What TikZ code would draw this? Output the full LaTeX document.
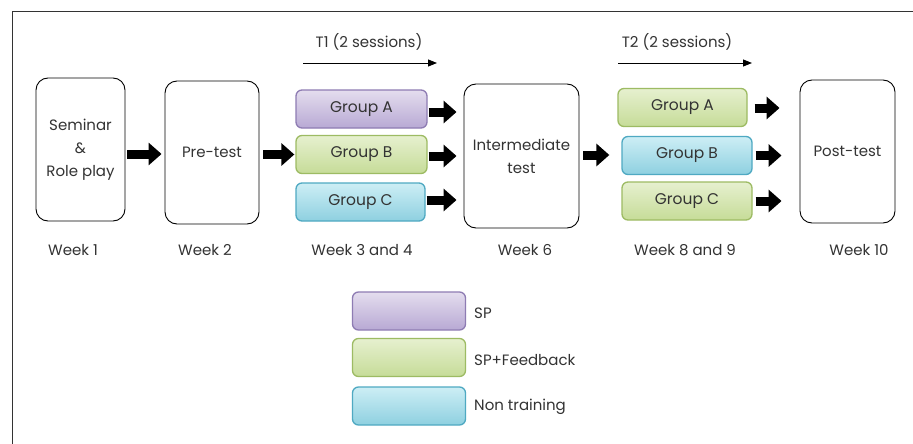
\documentclass[tikz,border=0pt]{standalone}
\usepackage{fontspec}
\setmainfont{Poppins}
\usetikzlibrary{arrows.meta,positioning}
\definecolor{purF1}{HTML}{E4DDEE}
\definecolor{purF2}{HTML}{B8A9D4}
\definecolor{purD}{HTML}{8E7CB3}
\definecolor{grnF1}{HTML}{E6F0CF}
\definecolor{grnF2}{HTML}{C6DC98}
\definecolor{grnD}{HTML}{9DBB63}
\definecolor{bluF1}{HTML}{CDEEF5}
\definecolor{bluF2}{HTML}{8ED0E0}
\definecolor{bluD}{HTML}{4FA9C2}
\tikzset{
  bigbox/.style={draw=black, line width=0.9pt, rounded corners=12pt, fill=white, align=center,
    font=\fontsize{15}{23}\selectfont, text=black!80, inner sep=0pt},
  grp/.style={rounded corners=6pt, line width=1.3pt, minimum height=38pt, inner sep=0pt,
    font=\fontsize{15.5}{18}\selectfont, text=black!80},
  purbox/.style={grp, draw=purD, top color=purF1, bottom color=purF2},
  grnbox/.style={grp, draw=grnD, top color=grnF1, bottom color=grnF2},
  blubox/.style={grp, draw=bluD, top color=bluF1, bottom color=bluF2},
  blockarrow/.style={line width=9pt, -{Triangle[length=13pt,width=22pt]}},
  thinarrow/.style={line width=0.9pt, -{Triangle[length=9pt,width=7pt]}},
  lbl/.style={font=\fontsize{15}{18}\selectfont, text=black!80, inner sep=0pt},
}
\begin{document}
\begin{tikzpicture}[x=1pt,y=-1pt]
\useasboundingbox (0,0) rectangle (913,444);
\fill[white] (0,0) rectangle (913,444);
% frame
\coordinate (fTL) at (12,11);
\coordinate (fTR) at (913,11);
\coordinate (fBL) at (12,444);
\draw[line width=0.9pt, black!80] (fTR) -- (fTL) -- (fBL);

% main boxes
\node[bigbox, minimum width=89pt, minimum height=143pt] (sem) at (80.5,149.5) {Seminar\\\&\\Role play};
\node[bigbox, minimum width=94pt, minimum height=143pt] (pre) at (212,152.5) {Pre-test};
\node[bigbox, minimum width=115pt, minimum height=144pt] (mid) at (521.5,156) {Intermediate\\test};
\node[bigbox, minimum width=95pt, minimum height=143pt] (post) at (847.5,151.5) {Post-test};

% T1 groups
\node[purbox, minimum width=131pt] (a1) at (361.5,109) {Group A};
\node[grnbox, minimum width=131pt] (b1) at (361.5,154.5) {Group B};
\node[blubox, minimum width=129pt] (c1) at (360.5,202) {Group C};
% T2 groups
\node[grnbox, minimum width=129pt] (a2) at (682.5,107.5) {Group A};
\node[blubox, minimum width=130pt] (b2) at (687,155.5) {Group B};
\node[grnbox, minimum width=130pt] (c2) at (687,201) {Group C};

% block arrows
\draw[blockarrow, shorten <=2pt, shorten >=3pt] (sem.east |- 0,154) coordinate (s1) -- (pre.west |- s1);
\draw[blockarrow, shorten <=4pt, shorten >=1pt] (pre.east |- b1.west) -- (b1.west);
\draw[blockarrow, shorten <=1pt, shorten >=7pt] (a1.east |- 0,112) coordinate (a1e) -- (mid.west |- a1e);
\draw[blockarrow, shorten <=1pt, shorten >=7pt] (b1.east |- 0,156) coordinate (b1e) -- (mid.west |- b1e);
\draw[blockarrow, shorten <=1pt, shorten >=7pt] (c1.east |- 0,200) coordinate (c1e) -- (mid.west |- c1e);
\draw[blockarrow, shorten <=4pt, shorten >=12pt] (mid.east |- 0,155) coordinate (m1) -- (b2.west |- m1);
\draw[blockarrow, shorten <=7pt, shorten >=20pt] (a2.east |- 0,108) coordinate (a2e) -- (post.west |- a2e);
\draw[blockarrow, shorten <=3pt, shorten >=18pt] (b2.east) -- (post.west |- b2.east);
\draw[blockarrow, shorten <=3pt, shorten >=18pt] (c2.east) -- (post.west |- c2.east);

% session arrows
\coordinate (t1s) at (303,63);
\coordinate (t1e) at (437,63);
\coordinate (t2s) at (618,63);
\coordinate (t2e) at (752,63);
\draw[thinarrow] (t1s) -- (t1e);
\draw[thinarrow] (t2s) -- (t2e);
\node[lbl] (t1) at (369,42) {T1 (2 sessions)};
\node[lbl] (t2) at (677,42) {T2 (2 sessions)};

% week labels
\node[lbl] (w1) at (73,250) {Week 1};
\node[lbl] (w2) at (205,250) {Week 2};
\node[lbl] (w3) at (362,250) {Week 3 and 4};
\node[lbl] (w6) at (525,250) {Week 6};
\node[lbl] (w8) at (685,250) {Week 8 and 9};
\node[lbl] (w10) at (859,250) {Week 10};

% legend
\node[purbox, minimum width=113pt, minimum height=38pt] (lsp) at (409,311) {};
\node[grnbox, minimum width=113pt, minimum height=38pt] (lspf) at (409,357.5) {};
\node[blubox, minimum width=113pt, minimum height=38pt] (lnt) at (409,406) {};
\node[lbl, anchor=base west] (tsp) at (474,318) {SP};
\node[lbl, anchor=base west] (tspf) at (474,365) {SP+Feedback};
\node[lbl, anchor=base west] (tnt) at (474,410) {Non training};
\end{tikzpicture}
\end{document}
